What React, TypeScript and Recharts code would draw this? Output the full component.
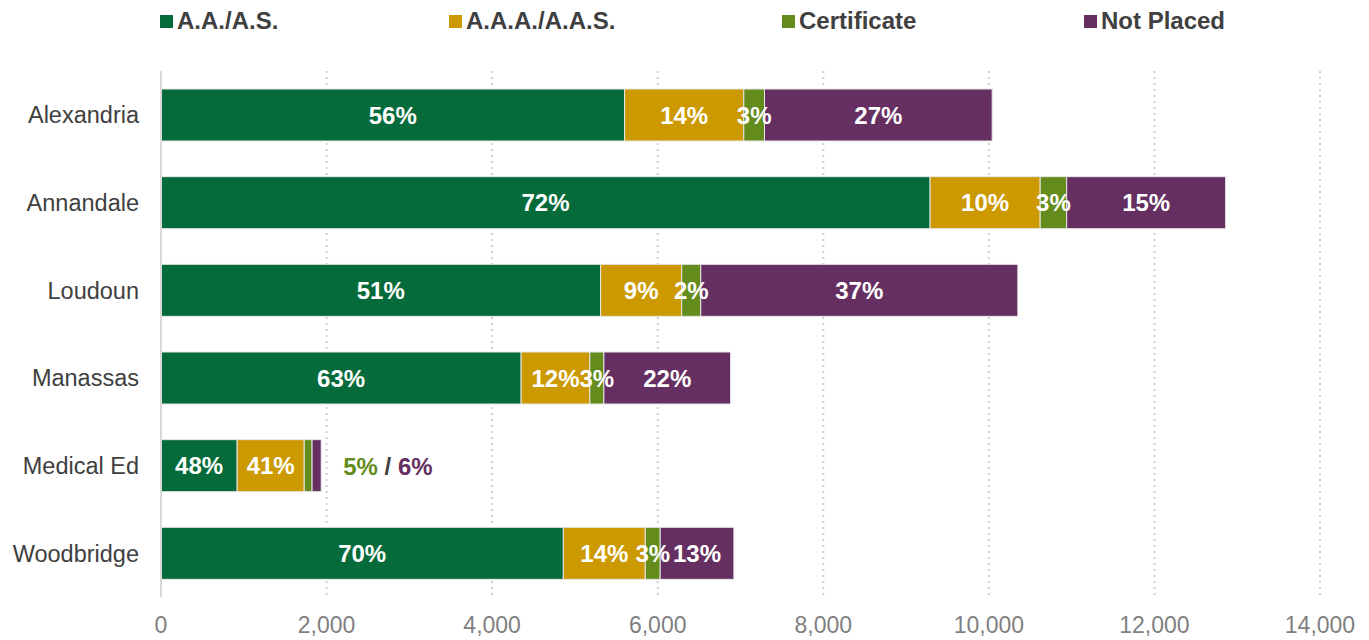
import React from 'react';
import { BarChart, Bar, XAxis, YAxis, CartesianGrid, LabelList } from 'recharts';

const categories = ['Alexandria', 'Annandale', 'Loudoun', 'Manassas', 'Medical Ed', 'Woodbridge'];
const aaValues = [5600, 9290, 5310, 4350, 920, 4860];
const aaaValues = [1440, 1330, 980, 830, 810, 990];
const certValues = [250, 320, 230, 170, 95, 180];
const npValues = [2750, 1920, 3830, 1530, 110, 890];

const aaLabels = ['56%', '72%', '51%', '63%', '48%', '70%'];
const aaaLabels = ['14%', '10%', '9%', '12%', '41%', '14%'];
const certLabels = ['3%', '3%', '2%', '3%', '5%', '3%'];
const npLabels = ['27%', '15%', '37%', '22%', '6%', '13%'];

// rows whose small segments get their labels written beside the bar
const outsideRows = ['Medical Ed'];

const xTicks = [0, 2000, 4000, 6000, 8000, 10000, 12000, 14000];

const COLORS = {
  aa: '#066b3b',
  aaa: '#cc9900',
  cert: '#638c1c',
  np: '#652f62',
};

const series = [
  { key: 'aa', name: 'A.A./A.S.', color: COLORS.aa, labels: aaLabels },
  { key: 'aaa', name: 'A.A.A./A.A.S.', color: COLORS.aaa, labels: aaaLabels },
  { key: 'cert', name: 'Certificate', color: COLORS.cert, labels: certLabels },
  { key: 'np', name: 'Not Placed', color: COLORS.np, labels: npLabels },
];

const legendLefts = [160, 449, 782, 1084];

const data = categories.map((name, i) => ({
  name,
  aa: aaValues[i],
  aaa: aaaValues[i],
  cert: certValues[i],
  np: npValues[i],
}));

const FONT = '"Liberation Sans", Arial, sans-serif';

const makeLabel = (seriesKey: string, labels: string[]) => (props: any) => {
  const { x, y, width, height, index } = props;
  const outside = outsideRows.includes(categories[index]);
  if (outside && (seriesKey === 'cert' || seriesKey === 'np')) {
    if (seriesKey !== 'np') return null;
    return (
      <text
        x={x + width + 22}
        y={y + height / 2}
        dominantBaseline="central"
        textAnchor="start"
        fontFamily={FONT}
        fontWeight="bold"
        fontSize={24}
      >
        <tspan fill={COLORS.cert}>{certLabels[index]}</tspan>
        <tspan fill="#404040"> / </tspan>
        <tspan fill={COLORS.np}>{npLabels[index]}</tspan>
      </text>
    );
  }
  return (
    <text
      x={x + width / 2}
      y={y + height / 2}
      dominantBaseline="central"
      textAnchor="middle"
      fill="#ffffff"
      fontFamily={FONT}
      fontWeight="bold"
      fontSize={24}
    >
      {labels[index]}
    </text>
  );
};

export default function App() {
  return (
    <div style={{ position: 'relative', width: 1369, height: 640, fontFamily: FONT }}>
      <style>{'body { margin: 0; }'}</style>
      {series.map((s, i) => (
        <div
          key={s.key}
          style={{
            position: 'absolute',
            left: legendLefts[i],
            top: 8,
            display: 'flex',
            alignItems: 'center',
            gap: 4,
            fontSize: 24,
            fontWeight: 'bold',
            color: '#404040',
            lineHeight: '26px',
          }}
        >
          <span style={{ width: 13, height: 13, background: s.color, display: 'inline-block' }} />
          {s.name}
        </div>
      ))}
      <BarChart
        width={1369}
        height={640}
        data={data}
        layout="vertical"
        margin={{ top: 71, right: 49, bottom: 3, left: 0 }}
        barSize={52}
      >
        <CartesianGrid
          horizontal={false}
          vertical
          stroke="#cfcfcf"
          strokeWidth={2}
          strokeDasharray="2 4"
        />
        <XAxis
          type="number"
          domain={[0, 14000]}
          ticks={xTicks}
          axisLine={false}
          tickLine={false}
          tickSize={0}
          tickMargin={20}
          height={40}
          tickFormatter={(v: number) => v.toLocaleString('en-US')}
          tick={{ fill: '#7f7f7f', fontSize: 23, fontFamily: FONT }}
        />
        <YAxis
          type="category"
          dataKey="name"
          width={161}
          axisLine={{ stroke: '#d9d9d9', strokeWidth: 2 }}
          tickLine={false}
          tickSize={0}
          tickMargin={22}
          tick={{ fill: '#404040', fontSize: 23.5, fontFamily: FONT }}
        />
        {series.map((s) => (
          <Bar
            key={s.key}
            dataKey={s.key}
            name={s.name}
            stackId="a"
            fill={s.color}
            stroke="#e6e6e6"
            strokeWidth={1}
            isAnimationActive={false}
          >
            <LabelList dataKey={s.key} content={makeLabel(s.key, s.labels)} />
          </Bar>
        ))}
      </BarChart>
    </div>
  );
}
